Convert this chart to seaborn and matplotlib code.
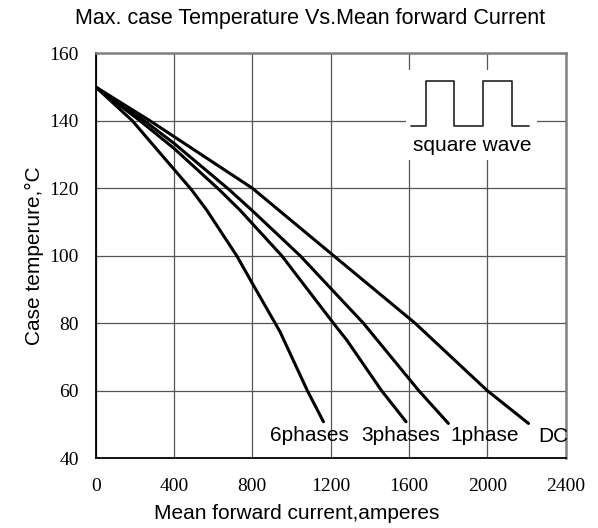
import matplotlib
matplotlib.use("Agg")
import matplotlib.pyplot as plt
import seaborn as sns
import pandas as pd
from matplotlib.patches import Rectangle

# ---- data ----
series_names = ["6phases", "3phases", "1phase", "DC"]
current_6ph = [0, 187, 490, 567, 720, 800, 941, 1081, 1163]
temp_6ph = [150, 140, 119.5, 113.5, 100, 91.8, 77.5, 60, 50.8]
current_3ph = [0, 226, 400, 632, 737, 950, 1214, 1282, 1460, 1585]
temp_3ph = [150, 140, 131.8, 119.5, 113.5, 100, 80, 75, 60, 50.8]
current_1ph = [0, 248, 400, 683, 797, 1044, 1367, 1650, 1801]
temp_1ph = [150, 140, 133.3, 119.5, 113.5, 100, 80, 60, 50.3]
current_dc = [0, 277, 800, 1215, 1631, 2000, 2210]
temp_dc = [150, 140, 120, 100, 80, 60, 50.3]

label_x = [890, 1355, 1810, 2260]
label_y = [46.6, 46.6, 46.6, 46.3]

x_ticks = [0, 400, 800, 1200, 1600, 2000, 2400]
y_ticks = [40, 60, 80, 100, 120, 140, 160]

title = "Max. case Temperature Vs.Mean forward Current"
xlabel = "Mean forward current,amperes"
ylabel = "Case temperure,°C"

frames = []
for name, xs, ys in zip(series_names,
                        [current_6ph, current_3ph, current_1ph, current_dc],
                        [temp_6ph, temp_3ph, temp_1ph, temp_dc]):
    frames.append(pd.DataFrame({"current": xs, "temp": ys, "series": name}))
df = pd.concat(frames, ignore_index=True)

sns.set_style("white")
plt.rcParams["font.family"] = ["Liberation Sans", "DejaVu Sans"]
for key in ["text.color", "axes.labelcolor", "xtick.color", "ytick.color"]:
    plt.rcParams[key] = "black"

fig = plt.figure(figsize=(5.98, 5.28), dpi=100)
ax = fig.add_axes([0.16, 0.1322, 0.786, 0.767])

sns.lineplot(data=df, x="current", y="temp", hue="series",
             palette={n: "black" for n in series_names},
             linewidth=2.2, sort=False, legend=False, ax=ax, zorder=3)

ax.set_xlim(0, 2400)
ax.set_ylim(40, 160)
ax.set_xticks(x_ticks)
ax.set_yticks(y_ticks)
ax.grid(True, color="#555555", linewidth=0.9)
ax.set_axisbelow(True)

for lbl in ax.get_xticklabels() + ax.get_yticklabels():
    lbl.set_fontfamily(["Liberation Serif", "DejaVu Serif"])
    lbl.set_fontsize(14)
ax.tick_params(axis="x", length=0, pad=14)
ax.tick_params(axis="y", length=0, pad=12)

for side in ["left", "bottom"]:
    ax.spines[side].set_color("black")
    ax.spines[side].set_linewidth(1.3)
for side in ["top", "right"]:
    ax.spines[side].set_color("#808080")
    ax.spines[side].set_linewidth(1.8)

ax.set_xlabel(xlabel, fontsize=15)
ax.xaxis.set_label_coords(0.428, -0.112)
ax.set_ylabel(ylabel, fontsize=15, labelpad=4)
fig.text(0.518, 0.965, title, ha="center", va="center", fontsize=15.5)

for name, lx, ly in zip(series_names, label_x, label_y):
    ax.text(lx, ly, name, fontsize=15, ha="left", va="center", zorder=4)

# square wave inset
ax.add_patch(Rectangle((1585, 128.4), 670, 26.6, facecolor="white",
                       edgecolor="none", zorder=2))
wave_x = [1609, 1686, 1686, 1830, 1830, 1980, 1980, 2128, 2128, 2213]
wave_y = [138.5, 138.5, 151.9, 151.9, 138.5, 138.5, 151.9, 151.9, 138.5, 138.5]
ax.plot(wave_x, wave_y, color="#222222", linewidth=1.2, zorder=3)
ax.text(1922, 132.8, "square wave", fontsize=15, ha="center", va="center", zorder=4)

fig.savefig("out.png", dpi=100)
